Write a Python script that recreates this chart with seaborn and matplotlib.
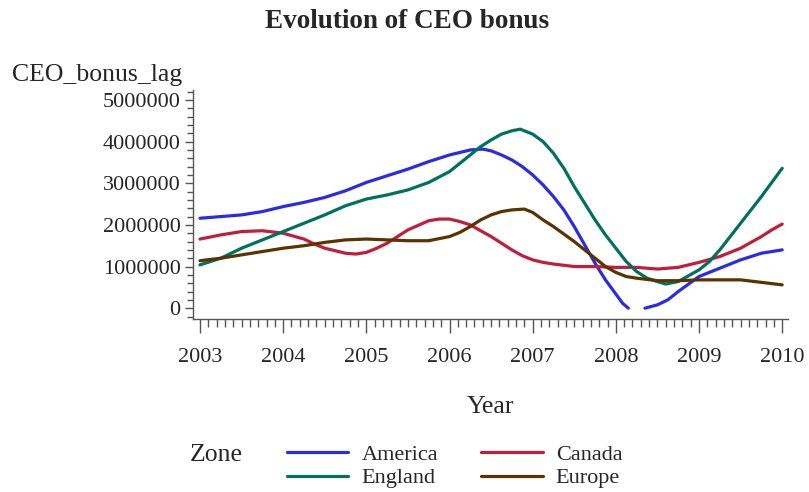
import pandas as pd
import seaborn as sns
import matplotlib.pyplot as plt
from matplotlib.lines import Line2D
from matplotlib.ticker import MultipleLocator, FuncFormatter

# values, in millions
america_x = [2003, 2003.25, 2003.5, 2003.75, 2004, 2004.25, 2004.5, 2004.75, 2005, 2005.25,
             2005.5, 2005.75, 2006, 2006.25, 2006.4, 2006.5, 2006.625, 2006.75, 2006.875,
             2007, 2007.125, 2007.25, 2007.375, 2007.5, 2007.625, 2007.75, 2007.875,
             2008, 2008.08, 2008.15,
             2008.35, 2008.5, 2008.625, 2008.75, 2008.875, 2009, 2009.25, 2009.5, 2009.75, 2010]
america_y = [2.16, 2.2, 2.24, 2.32, 2.44, 2.54, 2.66, 2.82, 3.02, 3.18,
             3.34, 3.52, 3.68, 3.8, 3.82, 3.78, 3.68, 3.56, 3.4,
             3.2, 2.96, 2.68, 2.36, 1.96, 1.52, 1.08, 0.68,
             0.34, 0.12, 0.0,
             0.0, 0.08, 0.2, 0.4, 0.58, 0.76, 0.96, 1.16, 1.32, 1.40]
america_seg = [0] * 30 + [1] * 10

england_x = [2003, 2003.25, 2003.5, 2003.75, 2004, 2004.25, 2004.5, 2004.75, 2005, 2005.25,
             2005.5, 2005.75, 2006, 2006.125, 2006.25, 2006.375, 2006.5, 2006.625, 2006.75,
             2006.85, 2007, 2007.125, 2007.25, 2007.375, 2007.5, 2007.625, 2007.75, 2007.875,
             2008, 2008.125, 2008.25, 2008.375, 2008.5, 2008.6, 2008.75, 2009, 2009.125,
             2009.25, 2009.5, 2009.75, 2010]
england_y = [1.04, 1.2, 1.44, 1.64, 1.84, 2.04, 2.24, 2.46, 2.62, 2.72,
             2.84, 3.02, 3.28, 3.48, 3.68, 3.88, 4.04, 4.18, 4.26,
             4.30, 4.18, 4.0, 3.72, 3.36, 2.92, 2.52, 2.12, 1.76,
             1.44, 1.12, 0.88, 0.72, 0.64, 0.58, 0.64, 0.92, 1.12,
             1.4, 2.04, 2.68, 3.36]

canada_x = [2003, 2003.25, 2003.5, 2003.75, 2004, 2004.25, 2004.375, 2004.5, 2004.75, 2004.875,
            2005, 2005.125, 2005.25, 2005.375, 2005.5, 2005.75, 2005.875, 2006, 2006.125,
            2006.25, 2006.375, 2006.5, 2006.625, 2006.75, 2006.875, 2007, 2007.125, 2007.25,
            2007.5, 2007.75, 2008, 2008.25, 2008.5, 2008.75, 2009, 2009.25, 2009.5, 2009.75,
            2009.875, 2010]
canada_y = [1.66, 1.76, 1.84, 1.86, 1.8, 1.66, 1.54, 1.44, 1.32, 1.3,
            1.34, 1.44, 1.56, 1.72, 1.88, 2.1, 2.14, 2.14, 2.08,
            2.0, 1.86, 1.72, 1.56, 1.4, 1.26, 1.16, 1.1, 1.06,
            1.0, 1.0, 0.98, 0.98, 0.94, 0.98, 1.1, 1.24, 1.44, 1.72,
            1.88, 2.02]

europe_x = [2003, 2003.25, 2003.5, 2003.75, 2004, 2004.25, 2004.5, 2004.75, 2005, 2005.25,
            2005.5, 2005.75, 2006, 2006.125, 2006.25, 2006.375, 2006.5, 2006.625, 2006.75,
            2006.9, 2007, 2007.125, 2007.25, 2007.375, 2007.5, 2007.625, 2007.75, 2007.875,
            2008, 2008.125, 2008.25, 2008.5, 2008.75, 2009, 2009.25, 2009.5, 2009.75, 2010]
europe_y = [1.14, 1.2, 1.28, 1.36, 1.44, 1.5, 1.58, 1.64, 1.66, 1.64,
            1.62, 1.62, 1.72, 1.82, 1.96, 2.12, 2.24, 2.32, 2.36,
            2.38, 2.3, 2.12, 1.96, 1.78, 1.6, 1.4, 1.2, 1.0,
            0.86, 0.76, 0.72, 0.66, 0.66, 0.68, 0.68, 0.68, 0.62, 0.56]

colors = {"America": "#2b2be6", "Canada": "#bf1e3c", "England": "#00705f", "Europe": "#5a3300"}

frames = []
for zone, xs, ys, seg in [
    ("America", america_x, america_y, america_seg),
    ("Canada", canada_x, canada_y, [0] * len(canada_x)),
    ("England", england_x, england_y, [0] * len(england_x)),
    ("Europe", europe_x, europe_y, [0] * len(europe_x)),
]:
    frames.append(pd.DataFrame({"Year": xs, "bonus": [v * 1e6 for v in ys],
                                "Zone": zone, "seg": seg}))
df = pd.concat(frames, ignore_index=True)

sns.set_style("ticks")
plt.rcParams["font.family"] = ["Liberation Serif", "DejaVu Serif"]
fs = 16
label_fs = 18.5

fig = plt.figure(figsize=(8.09, 4.92), dpi=100)
ax = fig.add_axes([193 / 809, 1 - 319 / 492, (788 - 193) / 809, (319 - 90) / 492])

sns.lineplot(data=df, x="Year", y="bonus", hue="Zone", units="seg", estimator=None,
             sort=False, palette=colors, linewidth=2.3, legend=False, ax=ax)

ax.set_xlim(2003 - 7 / 83.14, 2010.07)
ax.set_ylim(-0.26e6, 5.24e6)
ax.set_xticks(range(2003, 2011))
ax.xaxis.set_minor_locator(MultipleLocator(0.1))
ax.set_yticks([0, 1e6, 2e6, 3e6, 4e6, 5e6])
ax.yaxis.set_minor_locator(MultipleLocator(2e5))
ax.yaxis.set_major_formatter(FuncFormatter(lambda v, p: f"{int(round(v))}"))
ax.xaxis.set_major_formatter(FuncFormatter(lambda v, p: f"{int(round(v))}"))

ax.tick_params(axis="x", which="major", length=10, width=1, pad=11, labelsize=fs, color="#555555")
ax.tick_params(axis="x", which="minor", length=6, width=1, color="#555555")
ax.tick_params(axis="y", which="major", length=6, width=1, pad=3, labelsize=fs, color="#555555")
ax.tick_params(axis="y", which="minor", length=4, width=1, color="#555555")
sns.despine(ax=ax)
for s in ["left", "bottom"]:
    ax.spines[s].set_color("#555555")
    ax.spines[s].set_linewidth(1)

ax.set_ylabel("")
ax.set_xlabel("Year", fontsize=label_fs, labelpad=21)

fig.text(407 / 809, 1 - 21 / 492, "Evolution of CEO bonus", ha="center", va="center",
         fontsize=19.5, fontweight="bold")
fig.text(12 / 809, 1 - 75 / 492, "CEO_bonus_lag", ha="left", va="center", fontsize=label_fs)
fig.text(190 / 809, 1 - 455 / 492, "Zone", ha="left", va="center", fontsize=label_fs)

# legend fills column-wise: America / England, then Canada / Europe
order = ["America", "England", "Canada", "Europe"]
handles = [Line2D([], [], color=colors[z], linewidth=2.3) for z in order]
fig.legend(handles, order, ncol=2, frameon=False, fontsize=fs,
           loc="upper left", bbox_to_anchor=(287 / 809, 1 - 444 / 492),
           handlelength=2.75, handletextpad=0.6, columnspacing=1.95,
           labelspacing=0.15, borderpad=0, borderaxespad=0)

fig.savefig("out.png", dpi=100)
